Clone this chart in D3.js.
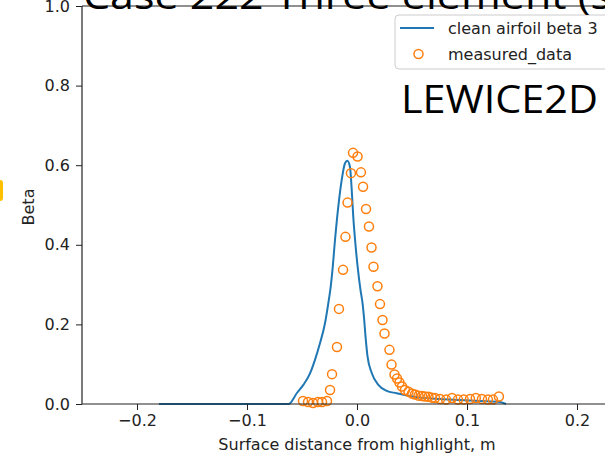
<!DOCTYPE html>
<html><head><meta charset="utf-8">
<script src="https://cdn.jsdelivr.net/npm/d3@7"></script>
<style>html,body{margin:0;padding:0;background:#fff;overflow:hidden}svg{display:block}</style>
</head><body><svg id="c" width="605" height="454"></svg>
<script>
// ---- data ----
const titleText = "Case 222 Three element (s";
const overlayText = "LEWICE2D";
const seriesNames = ["clean airfoil beta 3", "measured_data"];
const xTickValues = [-0.2, -0.1, 0.0, 0.1, 0.2];
const yTickValues = [0.0, 0.2, 0.4, 0.6, 0.8, 1.0];
const xLabel = "Surface distance from highlight, m";
const yLabel = "Beta";

const lineX = [-0.18, -0.0618, -0.0609, -0.0548, -0.0488, -0.0427, -0.0382, -0.0336, -0.0291, -0.0261, -0.0239, -0.0223, -0.020, -0.017, -0.0139, -0.0109, -0.0088, -0.0064, -0.0048, -0.0034, -0.0012, 0.0009, 0.0032, 0.005, 0.0064, 0.0077, 0.0095, 0.0134, 0.0194, 0.027, 0.0361, 0.0421, 0.0573, 0.0755, 0.0936, 0.1118, 0.13, 0.1355];
const lineY = [0, 0, 0.0018, 0.027, 0.048, 0.077, 0.111, 0.153, 0.203, 0.253, 0.295, 0.337, 0.412, 0.496, 0.563, 0.605, 0.611, 0.596, 0.538, 0.471, 0.395, 0.337, 0.286, 0.254, 0.216, 0.171, 0.121, 0.078, 0.048, 0.033, 0.027, 0.023, 0.016, 0.0125, 0.010, 0.0075, 0.005, 0];

const measX = [-0.0491, -0.0445, -0.040, -0.0355, -0.0318, -0.0273, -0.0245, -0.0227, -0.0182, -0.0164, -0.0127, -0.0105, -0.0086, -0.0055, -0.0036, 0.0005, 0.0036, 0.0055, 0.0082, 0.0109, 0.0132, 0.0150, 0.0186, 0.0209, 0.0232, 0.0250, 0.0295, 0.0314, 0.0341, 0.0364, 0.0386, 0.0409, 0.0436, 0.0468, 0.050, 0.0527, 0.0559, 0.0591, 0.0618, 0.0650, 0.0682, 0.0709, 0.0755, 0.081, 0.0864, 0.0918, 0.097, 0.1027, 0.108, 0.1136, 0.119, 0.1236, 0.129];
const measY = [0.0075, 0.005, 0.0025, 0.005, 0.005, 0.0075, 0.035, 0.075, 0.143, 0.239, 0.337, 0.420, 0.506, 0.580, 0.631, 0.622, 0.582, 0.546, 0.490, 0.446, 0.393, 0.345, 0.296, 0.251, 0.211, 0.177, 0.136, 0.099, 0.074, 0.064, 0.054, 0.044, 0.035, 0.031, 0.026, 0.024, 0.021, 0.020, 0.019, 0.018, 0.016, 0.015, 0.0125, 0.011, 0.015, 0.011, 0.011, 0.0125, 0.015, 0.0125, 0.011, 0.011, 0.019];

// ---- layout ----
const svg = d3.select("#c");
const L = 82, R = 632, T = 6, B = 404;
const x = d3.scaleLinear().domain([-0.25, 0.25]).range([L, R]);
const y = d3.scaleLinear().domain([0, 1]).range([B, T]);
const blue = "#1f77b4", orange = "#ff7f0e";
const font = "DejaVu Sans, sans-serif";
const fs = 16;

// left orange shape (slide decoration)
svg.append("rect").attr("x", -6).attr("y", 180).attr("width", 9).attr("height", 21).attr("rx", 3).attr("fill", "#ffc000");

// blue line
const line = d3.line().curve(d3.curveMonotoneX).x((d, i) => x(lineX[i])).y((d, i) => y(lineY[i]));
svg.append("path").datum(lineX).attr("d", line).attr("fill", "none")
  .attr("stroke", blue).attr("stroke-width", 2).attr("stroke-linejoin", "round");

// measured circles
svg.append("g").selectAll("circle").data(measX).join("circle")
  .attr("cx", (d) => x(d)).attr("cy", (d, i) => y(measY[i])).attr("r", 4.5)
  .attr("fill", "none").attr("stroke", orange).attr("stroke-width", 1.5);

// axes
const xAxis = d3.axisBottom(x).tickValues(xTickValues).tickSize(6).tickPadding(5)
  .tickFormat(d => d3.format(".1f")(d).replace("-", "\u2212"));
const yAxis = d3.axisLeft(y).tickValues(yTickValues).tickSize(6).tickPadding(6)
  .tickFormat(d3.format(".1f"));
const gx = svg.append("g").attr("transform", `translate(0,${B})`).call(xAxis);
const gy = svg.append("g").attr("transform", `translate(${L},0)`).call(yAxis);
[gx, gy].forEach(g => {
  g.select(".domain").remove();
  g.selectAll("line").attr("stroke", "#222").attr("stroke-width", 1);
  g.selectAll("text").attr("font-family", font).attr("font-size", fs).attr("fill", "#222");
});
// spines
svg.append("line").attr("x1", L).attr("x2", R).attr("y1", B).attr("y2", B).attr("stroke", "#222").attr("stroke-width", 1.2);
svg.append("line").attr("x1", L).attr("x2", R).attr("y1", T).attr("y2", T).attr("stroke", "#222").attr("stroke-width", 1.2);
svg.append("line").attr("x1", L).attr("x2", L).attr("y1", T).attr("y2", B).attr("stroke", "#222").attr("stroke-width", 1.2);

// axis labels
svg.append("text").attr("x", (L + R) / 2).attr("y", 450).attr("text-anchor", "middle")
  .attr("font-family", font).attr("font-size", fs).attr("fill", "#222").text(xLabel);
svg.append("text").attr("transform", "translate(34,207) rotate(-90)").attr("text-anchor", "middle")
  .attr("font-family", font).attr("font-size", fs).attr("fill", "#222").text(yLabel);

// legend
const lg = svg.append("g");
lg.append("rect").attr("x", 395).attr("y", 15).attr("width", 260).attr("height", 54).attr("rx", 4)
  .attr("fill", "#fff").attr("fill-opacity", 0.8).attr("stroke", "#ccc").attr("stroke-width", 1);
lg.append("line").attr("x1", 400).attr("x2", 434).attr("y1", 28).attr("y2", 28).attr("stroke", blue).attr("stroke-width", 2);
lg.append("circle").attr("cx", 418.5).attr("cy", 54).attr("r", 4.5).attr("fill", "none").attr("stroke", orange).attr("stroke-width", 1.5);
lg.selectAll("text.lt").data(seriesNames).join("text").attr("class", "lt")
  .attr("x", 448).attr("y", (d, i) => 34 + i * 26).attr("font-family", font).attr("font-size", fs).attr("fill", "#222").text(d => d);

// overlay slide text
svg.append("text").attr("x", 401).attr("y", 113).attr("font-family", "Open Sans, sans-serif").attr("font-size", 39)
  .attr("textLength", 197).attr("lengthAdjust", "spacingAndGlyphs").attr("fill", "#000").text(overlayText);
svg.append("text").attr("x", 83).attr("y", 9).attr("font-family", "Open Sans, sans-serif").attr("font-size", 36)
  .attr("textLength", 528).attr("lengthAdjust", "spacingAndGlyphs").attr("fill", "#000").text(titleText);
</script></body></html>
